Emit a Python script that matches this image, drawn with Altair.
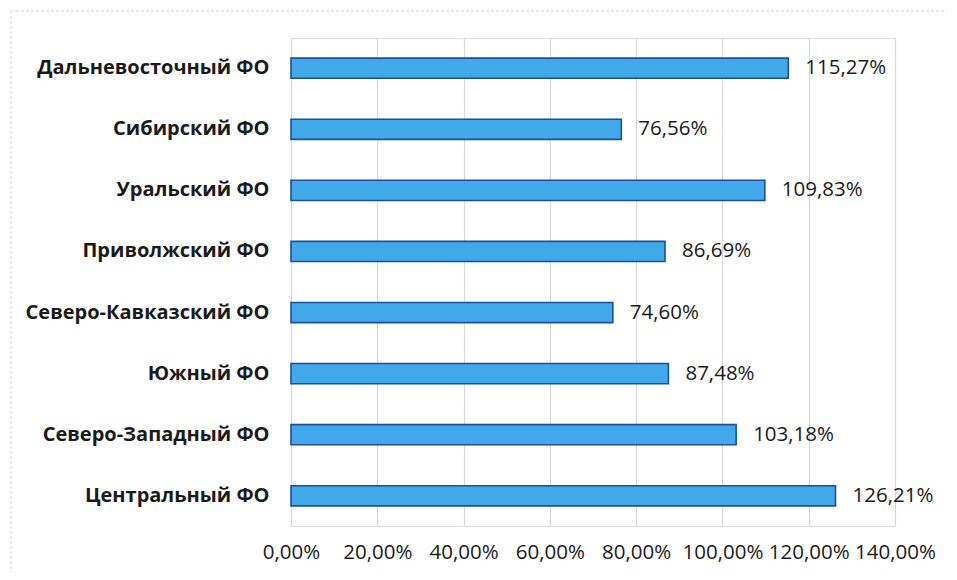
import altair as alt
import pandas as pd

regions = ["Дальневосточный ФО", "Сибирский ФО", "Уральский ФО", "Приволжский ФО",
           "Северо-Кавказский ФО", "Южный ФО", "Северо-Западный ФО", "Центральный ФО"]
values = [115.27, 76.56, 109.83, 86.69, 74.60, 87.48, 103.18, 126.21]
ticks = [0, 20, 40, 60, 80, 100, 120, 140]

df = pd.DataFrame({"region": regions, "value": values})
df["label"] = [f"{v:.2f}".replace(".", ",") + "%" for v in values]

FONT = "Open Sans"

x_enc = alt.X("value:Q",
              scale=alt.Scale(domain=[0, 140], nice=False, zero=True),
              axis=alt.Axis(values=ticks, title=None, domain=False, ticks=False,
                            grid=True, gridColor="#d9d9d9", gridWidth=1.2,
                            labelExpr="replace(format(datum.value, '.2f'), '.', ',') + '%'",
                            labelFont=FONT, labelFontSize=20.5, labelColor="#1a1a1a",
                            labelPadding=16, labelFlush=False, labelOverlap=False))
y_enc = alt.Y("region:N", sort=regions,
              scale=alt.Scale(paddingInner=0.67, paddingOuter=0.33),
              axis=alt.Axis(title=None, domain=False, ticks=False,
                            labelFont=FONT, labelFontSize=20, labelFontWeight="bold",
                            labelColor="#1a1a1a", labelPadding=22, labelLimit=400))

base = alt.Chart(df)
bars = base.mark_bar(color="#41a9ea", stroke="#1c4f9e", strokeWidth=1.6).encode(x=x_enc, y=y_enc)
labels = base.mark_text(align="left", baseline="middle", dx=17, font=FONT, fontSize=20.5,
                        color="#1a1a1a").encode(x="value:Q", y=alt.Y("region:N", sort=regions), text="label:N")

frame = pd.DataFrame({"k": [0]})
top_line = alt.Chart(frame).mark_rule(color="#d4d4d4", strokeDash=[3, 2], strokeWidth=1).encode(
    x=alt.value(-280), x2=alt.value(656), y=alt.value(-27))
left_line = alt.Chart(frame).mark_rule(color="#d4d4d4", strokeDash=[3, 2], strokeWidth=1).encode(
    x=alt.value(-280), y=alt.value(-27), y2=alt.value(534))

chart = alt.layer(top_line, left_line, bars, labels).properties(
    width=604, height=488,
    autosize=alt.AutoSizeParams(type="none"),
    padding={"left": 283, "top": 30, "right": 54, "bottom": 46},
).configure_view(stroke=None).configure(background="white")

chart.save("out.html", embed_options={"renderer": "svg", "actions": False})
